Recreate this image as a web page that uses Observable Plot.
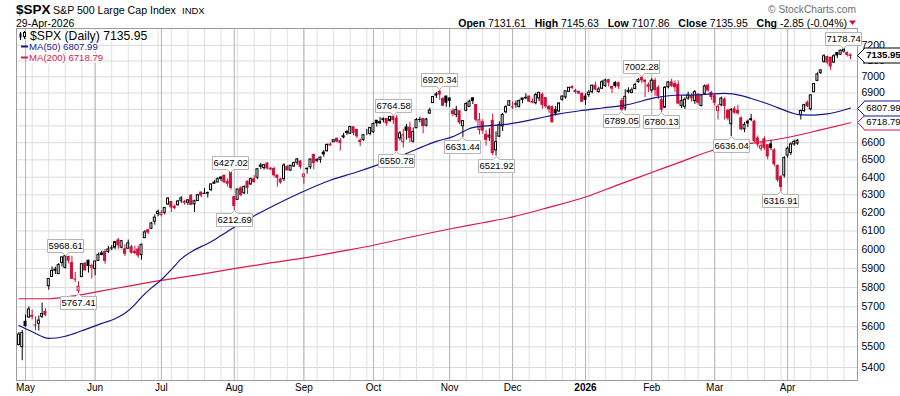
<!DOCTYPE html>
<html>
<head>
<meta charset="utf-8">
<script src="https://cdn.jsdelivr.net/npm/d3@7"></script>
<script src="https://cdn.jsdelivr.net/npm/@observablehq/plot@0.6"></script>
<style>
  html, body { margin: 0; padding: 0; background: #fff; }
  #wrap { position: relative; width: 900px; height: 396px; overflow: hidden; }
  #wrap svg { display: block; }
  #overlay { position: absolute; left: 0; top: 0; pointer-events: none; }
</style>
</head>
<body>
<div id="wrap"><div id="chart"></div></div>
<script>
const FONT = '"Liberation Sans", Arial, Helvetica, sans-serif';
const BLACK = "#000000";
const RED = "#d0103a";
const NAVY = "#15158c";
const CRIMSON = "#dc1846";

// ---------- daily OHLC, one array per month: [open, high, low, close] ----------
const apr2025 = [
  [5509,5572,5506,5561],[5499.4,5581.8,5433.2,5569.1]
];
const may2025 = [
  [5625,5659,5597,5604],[5646,5701,5644,5687],[5655,5684,5635,5650],[5606,5650,5580,5607],
  [5615,5654,5579,5631],[5650,5720,5642,5664],[5675,5692,5650,5660],[5807,5844,5786,5844],
  [5855,5907,5853,5887],[5887,5906,5868,5893],[5870,5925,5867,5917],[5929,5959,5907,5958],
  [5903,5968.61,5896,5964],[5960,5965,5923,5940],[5928,5964,5841,5845],[5841,5878,5826,5842],
  [5782,5830,5767.41,5803],[5854,5924,5854,5922],[5925,5929,5886,5889],[5940,5943,5875,5912.2],
  [5904,5922,5844,5911.7]
];
const jun2025 = [
  [5897,5937,5861,5936],[5939,5981,5939,5970],[5979,5991,5966,5971],[5986,6000,5921,5939],
  [5987,6017,5979,6000],[6005,6021,5994,6006],[6010,6043,6000,6039],[6049,6059,6002,6022],
  [6010,6045,6004,6045],[6001,6026,5963,5977],[6004,6051,6004,6033],[6012,6023,5975,5983],
  [5988,6018,5972,5981],[6000,6018,5953,5968],[5970,6029,5943,6025],[6061,6102,6061,6092.2],
  [6104,6109,6080,6092.1],[6112,6147,6107,6141],[6151,6188,6132,6173],[6193,6215,6178,6205]
];
const jul2025 = [
  [6187,6211,6177,6198],[6200,6228,6188,6227],[6246,6285,6241,6279],[6260,6263,6201,6230],
  [6233,6243,6217,6226],[6242,6269,6237,6263],[6267,6290,6252,6280],[6256,6269,6242,6260],
  [6256,6273,6241,6269],[6295,6302,6243,6244],[6247,6270,6202,6264],[6265,6304,6264,6297.4],
  [6313,6316,6284,6296.8],[6305,6336,6304,6306],[6307,6316,6282,6310],[6327,6361,6318,6359],
  [6369,6381,6361,6363],[6370,6396,6369,6389],[6398,6401,6375,6390],[6409,6409,6365,6371],
  [6374,6390,6344,6363],[6427,6427.02,6327,6339]
];
const aug2025 = [
  [6287,6288,6212.69,6238],[6272,6330,6272,6330],[6336,6346,6290,6299],[6309,6350,6301,6345],
  [6374,6379,6302,6340],[6359,6395,6353,6389],[6388,6409,6365,6373],[6397,6446,6386,6446],
  [6460,6480,6444,6467],[6453,6474,6441,6469],[6479,6481,6441,6449.8],[6445,6455,6437,6449.2],
  [6447,6457,6400,6411],[6410,6410,6344,6396],[6387,6394,6360,6370],[6389,6478,6375,6467],
  [6458,6467,6438,6439],[6438,6467,6434,6466],[6462,6487,6457,6481],[6483,6508,6468,6502],
  [6491,6491,6445,6460]
];
const sep2025 = [
  [6402,6417,6361,6416],[6446,6454,6418,6448],[6457,6503,6445,6502],[6529,6533,6443,6482],
  [6498,6508,6484,6495],[6500,6516,6480,6513],[6542,6555,6516,6532],[6550,6593,6546,6587],
  [6589,6600,6579,6584],[6603,6620,6602,6615],[6624,6627,6600,6607],[6609,6625,6551,6600],
  [6638,6656,6623,6632],[6657,6672,6643,6664],[6653,6695,6652,6694],[6692,6692,6642,6657],
  [6676,6676,6625,6638],[6612,6622,6578,6605],[6617,6649,6608,6644],[6661,6679,6642,6661],
  [6652,6689,6641,6688]
];
const oct2025 = [
  [6662,6718,6656,6711],[6731,6731,6693,6715.4],[6722,6750,6708,6715.8],[6735,6749,6718,6740],
  [6742,6745,6698,6715],[6730,6756,6720,6754],[6754,6764.58,6709,6735],[6744,6762,6550.78,6553],
  [6626,6666,6611,6655],[6603,6680,6569,6644],[6691,6709,6615,6671],[6689,6722,6599,6629],
  [6606,6688,6598,6664],[6686,6745,6685,6735.1],[6736,6752,6718,6735.4],[6741,6741,6653,6699],
  [6701,6745,6694,6738],[6774,6807,6770,6792],[6838,6877,6838,6875],[6884,6902,6866,6890.9],
  [6906,6920.34,6855,6890.6],[6863,6871,6820,6822],[6878,6880,6812,6840]
];
const nov2025 = [
  [6866,6868,6812,6852],[6788,6803,6754,6772],[6766,6818,6749,6796],[6788,6791,6707,6720],
  [6698,6731,6631.44,6729],[6791,6841,6785,6832],[6815,6855,6813,6847],[6867,6870,6829,6851],
  [6826,6829,6722,6737],[6675,6775,6647,6734],[6722,6737,6650,6672],[6647,6673,6580,6617],
  [6631,6683,6608,6642],[6730,6771,6526,6539],[6555,6664,6521.92,6603],[6636,6724,6630,6705],
  [6697,6776,6666,6766],[6782,6822,6773,6813],[6822,6850,6818,6849]
];
const dec2025 = [
  [6812,6844,6800,6812.6],[6830,6851,6806,6829],[6815,6857,6808,6850],[6866,6866,6834,6857],
  [6867,6895,6859,6870],[6878,6879,6841,6847],[6845,6864,6834,6841],[6837,6899,6827,6887],
  [6866,6903,6846,6901],[6889,6900,6801,6827],[6868,6869,6806,6817],[6815,6823,6775,6800],
  [6813,6820,6719,6721],[6795,6818,6760,6775],[6787,6840,6780,6835],[6858,6880,6849,6878],
  [6873,6910,6861,6910],[6907,6933,6905,6932],[6935,6945,6922,6930],[6913,6923,6893,6906],
  [6906,6913,6893,6896],[6895,6900,6844,6846]
];
const jan2026 = [
  [6878,6895,6824,6858],[6887,6915,6873,6902],[6905,6947,6895,6945],[6945,6966,6916,6921],
  [6906,6935,6898,6921.5],[6926,6978,6923,6966],[6944,6986,6934,6977],[6979,6985,6937,6964],
  [6937,6941,6896,6927],[6960,6971,6930,6944],[6960,6967,6921,6940],[6850,6866,6789.05,6797],
  [6806,6920,6790,6876],[6905,6932,6895,6913],[6900,6930,6895,6916],[6924,6960,6920,6950],
  [6967,6990,6960,6979],[6993,7002.28,6958,6978],[6977,6978,6872,6969],[6947,6962,6902,6939]
];
const feb2026 = [
  [6915,6990,6900,6976],[6975,6990,6880,6917],[6930,6945,6860,6882],[6855,6870,6780.13,6798],
  [6810,6940,6805,6932],[6935,6972,6925,6965],[6966,6985,6935,6942],[6955,6975,6905,6935],
  [6950,6975,6830,6835],[6820,6880,6805,6850],[6815,6870,6800,6858],[6865,6905,6855,6885],
  [6880,6895,6845,6868],[6850,6915,6830,6905],[6890,6895,6825,6840],[6820,6890,6815,6885],
  [6895,6950,6890,6940],[6945,6955,6905,6915],[6900,6910,6855,6875]
];
const mar2026 = [
  [6880,6890,6820,6840],[6790,6830,6735,6815],[6825,6875,6815,6865],[6860,6870,6735,6820],
  [6790,6800,6730,6745],[6710,6805,6636.04,6795],[6800,6815,6770,6780],[6790,6825,6765,6775],
  [6745,6755,6670,6680],[6680,6720,6660,6705],[6725,6735,6690,6715],[6740,6770,6725,6735],
  [6725,6735,6600,6610],[6625,6640,6570,6590],[6565,6600,6550,6580],[6620,6635,6555,6570],
  [6585,6590,6500,6520],[6590,6615,6555,6570],[6555,6565,6460,6475],[6465,6470,6370,6385],
  [6400,6410,6316.91,6345],[6410,6520,6395,6510]
];
const apr2026 = [
  [6525,6575,6510,6565],[6540,6600,6525,6590],[6590,6615,6580,6605],[6595,6620,6585,6612],
  [6765,6795,6735,6790],[6790,6830,6780,6825],[6840,6850,6810,6818],[6800,6890,6790,6885],
  [6905,6960,6900,6955],[6975,7025,6970,7015],[7025,7045,7015,7040],[7095,7140,7085,7130],
  [7125,7130,7075,7090],[7120,7125,7040,7065],[7090,7140,7085,7130],[7150,7155,7115,7135],
  [7140,7170,7135,7165],[7160,7178.74,7150,7172],[7150,7158,7125,7138.8],[7131.61,7145.63,7107.86,7135.95]
];
const monthBlocks = [apr2025, may2025, jun2025, jul2025, aug2025, sep2025, oct2025,
                     nov2025, dec2025, jan2026, feb2026, mar2026, apr2026];

// market holidays inside the window
const holidays = ["2025-05-26","2025-06-19","2025-07-04","2025-09-01","2025-11-27",
                  "2025-12-25","2026-01-01","2026-01-19","2026-02-16","2026-04-03"];
const firstDay = "2025-04-29", lastDay = "2026-04-29";

// moving averages: [trading-day index, value]
const ma50Pts = [
  [0,5606],[4,5575],[9,5542],[14,5553],[19,5580],[25,5617],[29,5640],[32,5668],[35,5712],
  [37,5750],[40,5798],[43,5840],[46,5893],[49,5950],[53,5998],[57,6032],[61,6075],[65,6120],
  [72,6193],[79,6259],[85,6312],[94,6383],[102,6430],[112,6497],[120,6562],[126,6608],
  [131,6636],[137,6690],[148,6712],[156,6742],[163,6772],[170,6793],[176,6808],[183,6826],
  [193,6874],[198,6886],[203,6887],[208,6893],[213,6898],[218,6884],[221,6866],[225,6840],
  [229,6810],[233,6780],[236,6766],[240,6765],[244,6772],[248,6790],[251,6807.99]
];
const ma200Pts = [
  [0,5742],[9,5742],[16,5755],[25,5782],[34,5810],[43,5837],[54,5866],[65,5898],[75,5926],
  [86,5955],[97,5990],[107,6023],[118,6066],[130,6111],[140,6145],[149,6177],[160,6230],
  [171,6288],[181,6358],[191,6427],[200,6490],[210,6559],[220,6594],[232,6631],[242,6676],
  [251,6718.79]
];

const yTicks = [5400,5500,5600,5700,5800,5900,6000,6100,6200,6300,6400,6500,6600,6700,6800,6900,7000,7100,7200];
const monthNames = ["Jan","Feb","Mar","Apr","May","Jun","Jul","Aug","Sep","Oct","Nov","Dec"];
const highCallouts = ["2025-05-19","2025-07-31","2025-10-09","2025-10-29","2026-01-28","2026-04-27"];
const lowCallouts  = ["2025-05-23","2025-08-01","2025-10-10","2025-11-07","2025-11-21",
                      "2026-01-20","2026-02-05","2026-03-09","2026-03-30"];
const lastClose = 7135.95, lastMa50 = 6807.99, lastMa200 = 6718.79;
const quote = {open: "7131.61", high: "7145.63", low: "7107.86", close: "7135.95", chg: "-2.85 (-0.04%)"};

// ---------- build trading calendar & candles ----------
const tradingDates = [];
for (let t = new Date(firstDay + "T12:00:00Z"); t <= new Date(lastDay + "T12:00:00Z"); t = new Date(t.getTime() + 864e5)) {
  const wd = t.getUTCDay(), s = t.toISOString().slice(0, 10);
  if (wd === 0 || wd === 6 || holidays.includes(s)) continue;
  tradingDates.push(s);
}
const candles = [];
monthBlocks.flat().forEach((r, k) => {
  candles.push({i: k, date: tradingDates[k], o: r[0], h: r[1], l: r[2], c: r[3]});
});
candles.forEach((d, k) => {
  const prev = k ? candles[k - 1].c : d.c - 1;
  d.col = d.c >= prev ? BLACK : RED;
  d.hollow = d.c >= d.o;
});
const idxOf = new Map(candles.map(d => [d.date, d.i]));

const monthIdx = [], weekIdx = [];
candles.forEach((d, k) => {
  if (!k) return;
  const p = candles[k - 1];
  if (d.date.slice(0, 7) !== p.date.slice(0, 7)) monthIdx.push(d.i);
  const wk = s => { const t = new Date(s + "T12:00:00Z"); return Math.floor((t.getTime() / 864e5 + 3) / 7); };
  if (wk(d.date) !== wk(p.date)) weekIdx.push(d.i);
});
const monthLabel = i => {
  const s = candles[i].date, m = +s.slice(5, 7);
  return m === 1 ? s.slice(0, 4) : monthNames[m - 1];
};
const regMonths = monthIdx.filter(i => +candles[i].date.slice(5, 7) !== 1);
const yearMonths = monthIdx.filter(i => +candles[i].date.slice(5, 7) === 1);

const highs = highCallouts.filter(s => idxOf.has(s)).map(s => { const d = candles[idxOf.get(s)]; return {i: d.i, v: d.h}; });
const lows = lowCallouts.filter(s => idxOf.has(s)).map(s => { const d = candles[idxOf.get(s)]; return {i: d.i, v: d.l}; });

const tipBase = {fill: "white", pathFilter: "none", fontFamily: FONT, lineHeight: 1};

const chart = Plot.plot({
  width: 900, height: 396,
  marginTop: 28, marginRight: 43, marginBottom: 16, marginLeft: 16,
  style: {fontFamily: FONT, background: "white", color: "black", overflow: "visible"},
  x: {type: "linear", domain: [-0.73, 253.1], axis: null, label: null},
  y: {type: "log", domain: [5337.7, 7308.8], axis: null, label: null},
  marks: [
    Plot.ruleY(yTicks, {y: d => d, stroke: "#dadada"}),
    Plot.ruleX(weekIdx, {x: d => d, stroke: "#e0e0e0"}),
    Plot.ruleX(monthIdx, {x: d => d, stroke: "#b4b4b4"}),
    Plot.ruleX(candles, {x: "i", y1: "l", y2: "h", stroke: "col", strokeWidth: 1}),
    Plot.rect(candles, {x1: d => d.i - 0.3, x2: d => d.i + 0.3, y1: "o", y2: "c",
                        fill: d => d.hollow ? "white" : d.col, stroke: "col", strokeWidth: 1}),
    Plot.line(ma200Pts, {x: d => d[0], y: d => d[1], stroke: CRIMSON, strokeWidth: 1.2, curve: "monotone-x"}),
    Plot.line(ma50Pts, {x: d => d[0], y: d => d[1], stroke: NAVY, strokeWidth: 1.2, curve: "monotone-x"}),
    Plot.frame({stroke: "#9c9c9c"}),
    Plot.axisY(yTicks, {anchor: "right", tickSize: 0, tickPadding: 4, fontSize: 10.5, label: null,
                        tickFormat: d => String(d)}),
    Plot.axisX(regMonths, {anchor: "bottom", tickSize: 0, tickPadding: 3, fontSize: 10, label: null,
                           tickFormat: monthLabel}),
    Plot.axisX(yearMonths, {anchor: "bottom", tickSize: 0, tickPadding: 3, fontSize: 10, label: null,
                            fontWeight: "bold", tickFormat: monthLabel}),
    Plot.tip(highs, {...tipBase, x: "i", y: "v", title: d => d.v.toFixed(2), anchor: "bottom",
                     stroke: "#b4b4b4", pointerSize: 6, textPadding: 1, fontSize: 9.5}),
    Plot.tip(lows, {...tipBase, x: "i", y: "v", title: d => d.v.toFixed(2), anchor: "top",
                    stroke: "#b4b4b4", pointerSize: 6, textPadding: 1, fontSize: 9.5}),
    Plot.tip([lastMa200], {...tipBase, y: d => d, frameAnchor: "right", anchor: "left", title: d => d.toFixed(2),
                           stroke: CRIMSON, pointerSize: 13.5, textPadding: 2, fontSize: 9.5, ariaLabel: "tag-ma200"}),
    Plot.tip([lastMa50], {...tipBase, y: d => d, frameAnchor: "right", anchor: "left", title: d => d.toFixed(2),
                          stroke: NAVY, pointerSize: 13.5, textPadding: 2, fontSize: 9.5, ariaLabel: "tag-ma50"}),
    Plot.tip([lastClose], {...tipBase, y: d => d, frameAnchor: "right", anchor: "left", title: d => d.toFixed(2),
                           stroke: BLACK, pointerSize: 13.5, textPadding: 2, fontSize: 9.5, fontWeight: "bold",
                           ariaLabel: "tag-close"})
  ]
});
document.getElementById("chart").appendChild(chart);
const g200 = chart.querySelector('g[aria-label="tag-ma200"]'); if (g200) g200.style.color = CRIMSON;
const g50 = chart.querySelector('g[aria-label="tag-ma50"]'); if (g50) g50.style.color = NAVY;

// ---------- header & legend overlay ----------
const ov = d3.select("#wrap").append("svg").attr("id", "overlay").attr("width", 900).attr("height", 396)
  .style("font-family", FONT);
const txt = (x, y, s, size, opts = {}) => ov.append("text").attr("x", x).attr("y", y).text(s)
  .attr("font-size", size).attr("font-weight", opts.bold ? "bold" : null)
  .attr("fill", opts.fill || "#000").attr("text-anchor", opts.anchor || "start")
  .style("white-space", "pre");
txt(16, 14, "$SPX", 13.5, {bold: true});
txt(53, 13.5, "S&P 500 Large Cap Index", 10.6);
txt(182, 13.5, "INDX", 9.5);
txt(16, 26.5, "29-Apr-2026", 10.5);
txt(856, 13, "\u00A9 StockCharts.com", 10.2, {fill: "#707070", anchor: "end"});

const q = ov.append("text").attr("x", 847).attr("y", 26.5).attr("font-size", 10.5)
  .attr("text-anchor", "end").style("white-space", "pre");
[["Open", 1], [" " + quote.open + "   ", 0], ["High", 1], [" " + quote.high + "   ", 0],
 ["Low", 1], [" " + quote.low + "   ", 0], ["Close", 1], [" " + quote.close + "   ", 0],
 ["Chg", 1], [" " + quote.chg, 0]].forEach(([s, b]) =>
  q.append("tspan").text(s).attr("font-weight", b ? "bold" : null));
ov.append("path").attr("d", "M849,20.5L856,20.5L852.5,25Z").attr("fill", RED);

// legend (inside plot, top-left)
const lg = ov.append("g");
lg.append("line").attr("x1", 20.5).attr("x2", 20.5).attr("y1", 32).attr("y2", 40).attr("stroke", "#000");
lg.append("rect").attr("x", 19.5).attr("y", 33.5).attr("width", 2).attr("height", 4).attr("fill", "#000");
lg.append("line").attr("x1", 24.5).attr("x2", 24.5).attr("y1", 31).attr("y2", 39).attr("stroke", "#000");
lg.append("rect").attr("x", 23.5).attr("y", 32.5).attr("width", 2).attr("height", 4).attr("fill", "#fff").attr("stroke", "#000");
txt(30, 40, "$SPX (Daily) " + lastClose.toFixed(2), 12.2).style("paint-order", "stroke").attr("stroke", "#fff").attr("stroke-width", 3);
lg.append("line").attr("x1", 21).attr("x2", 28).attr("y1", 46.5).attr("y2", 46.5).attr("stroke", NAVY).attr("stroke-width", 2);
txt(29, 50, "MA(50) " + lastMa50.toFixed(2), 9.6, {fill: NAVY}).style("paint-order", "stroke").attr("stroke", "#fff").attr("stroke-width", 3);
lg.append("line").attr("x1", 21).attr("x2", 28).attr("y1", 57.5).attr("y2", 57.5).attr("stroke", CRIMSON).attr("stroke-width", 2);
txt(29, 61, "MA(200) " + lastMa200.toFixed(2), 9.6, {fill: CRIMSON}).style("paint-order", "stroke").attr("stroke", "#fff").attr("stroke-width", 3);
</script>
</body>
</html>
